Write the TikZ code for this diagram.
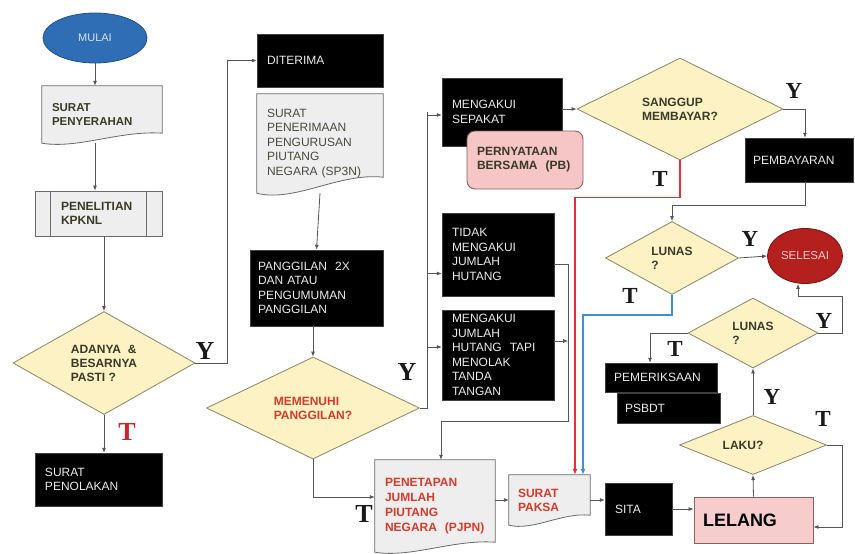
\documentclass[tikz,border=0pt]{standalone}
\usepackage{fontspec}
\setmainfont{Liberation Sans}
\newfontfamily\serf{Liberation Serif}
\usetikzlibrary{shapes.geometric,arrows.meta,calc,backgrounds}
\definecolor{dfill}{HTML}{FCF2C4}
\definecolor{ddraw}{HTML}{8A8466}
\definecolor{gfill}{HTML}{EEEEEE}
\definecolor{gdraw}{HTML}{6A6A6A}
\definecolor{lncol}{HTML}{555555}
\definecolor{dtxt}{HTML}{3A3A28}
\definecolor{sptxt}{HTML}{4A4A3E}
\definecolor{rtxt}{HTML}{D83A2C}
\definecolor{pfill}{HTML}{F6C6C6}
\definecolor{pdraw}{HTML}{8A6060}
\definecolor{bfill}{HTML}{2F6DB5}
\definecolor{bdraw}{HTML}{1F4F8F}
\definecolor{btxt}{HTML}{D5E5F5}
\definecolor{efill}{HTML}{B3201E}
\definecolor{edraw}{HTML}{7A1414}
\definecolor{etxt}{HTML}{F5D0D0}
\definecolor{redln}{HTML}{E0303A}
\definecolor{bluln}{HTML}{3D8FD6}
\definecolor{labcol}{HTML}{1A1A1A}
\definecolor{tred}{HTML}{C8282A}
\newcommand\docshape[2]{%
  \begin{pgfonlayer}{background}
  \path[docline] (#1.north west) -- (#1.north east) -- ($(#1.south east)+(0,-#2)$)
    .. controls ($(#1.south west)!0.65!(#1.south east)+(0,-1.3*#2)$) and ($(#1.south west)!0.3!(#1.south east)+(0,0.6*#2)$) .. (#1.south west) -- cycle;
  \end{pgfonlayer}}
\begin{document}
\begin{tikzpicture}[x=1pt,y=-1pt,
  every node/.style={font=\fontsize{12}{14.5}\selectfont},
  blk/.style={rectangle, fill=black, draw=black!75, text=white!92!black, align=left, inner xsep=10pt, inner ysep=0pt},
  gbox/.style={rectangle, fill=gfill, draw=gdraw, line width=0.8pt, align=left, inner xsep=10pt, inner ysep=0pt, text=dtxt, font=\bfseries\fontsize{12}{14}\selectfont},
  docnode/.style={rectangle, align=left, inner xsep=10pt, inner ysep=0pt},
  docline/.style={fill=gfill, draw=gdraw, line width=0.8pt},
  dia/.style={diamond, fill=dfill, draw=ddraw, line width=0.8pt, inner sep=0pt},
  dtext/.style={text=dtxt, font=\bfseries\fontsize{12}{14}\selectfont, align=left},
  rdtext/.style={text=rtxt, font=\bfseries\fontsize{12}{14}\selectfont, align=left},
  pinkbox/.style={rectangle, fill=pfill, draw=pdraw, line width=0.9pt, align=left, inner ysep=0pt},
  arr/.style={draw=lncol, line width=0.8pt, -{Latex[length=5pt,width=4pt]}},
  plain/.style={draw=lncol, line width=0.8pt},
  labbig/.style={font=\serf\bfseries\fontsize{26}{26}\selectfont, text=labcol, inner sep=0pt},
  lab/.style={font=\serf\bfseries\fontsize{23}{23}\selectfont, text=labcol, inner sep=0pt},
]
\useasboundingbox (0,0) rectangle (855,554);
\begin{pgfonlayer}{background}
\fill[white] (0,0) rectangle (855,554);
\end{pgfonlayer}

% ---------- left column ----------
\node[ellipse, fill=bfill, draw=bdraw, line width=0.8pt, minimum width=104pt, minimum height=50pt, inner sep=0pt, text=btxt, font=\fontsize{11}{13}\selectfont] (mulai) at (95,38) {MULAI};

\node[docnode, text=dtxt, font=\bfseries\fontsize{11.5}{14}\selectfont, text width=100pt, minimum height=57pt] (penyerahan) at (102,114.5) {SURAT\\PENYERAHAN};
\docshape{penyerahan}{10}

\node[gbox, inner xsep=26pt, text width=75pt, minimum height=45pt] (penelitian) at (98.5,213.5) {PENELITIAN\\KPKNL};
\draw[draw=gdraw, line width=0.8pt] ($(penelitian.north west)+(16,0)$) -- ($(penelitian.south west)+(16,0)$);
\draw[draw=gdraw, line width=0.8pt] ($(penelitian.north east)+(-16,0)$) -- ($(penelitian.south east)+(-16,0)$);

\node[dia, minimum width=182pt, minimum height=103pt, label={[dtext]center:{ADANYA \ \&\\BESARNYA\\PASTI ?}}] (adanya) at (104,363) {};

\node[blk, text width=107pt, minimum height=53pt] (penolakan) at (98.5,479.5) {SURAT\\PENOLAKAN};

% ---------- second column ----------
\node[blk, text width=106pt, minimum height=53pt] (diterima) at (320,60.5) {DITERIMA};

\node[docnode, text=sptxt, text width=106pt, minimum height=99pt] (sp3n) at (320,143.5) {SURAT\\PENERIMAAN\\PENGURUSAN\\PIUTANG\\NEGARA (SP3N)};
\docshape{sp3n}{16}

\node[blk, inner xsep=8pt, text width=117pt, minimum height=76pt] (panggilan) at (316.5,288) {PANGGILAN \ 2X\\DAN ATAU\\PENGUMUMAN\\PANGGILAN};

\node[dia, minimum width=213pt, minimum height=102pt, label={[rdtext]center:{MEMENUHI\\PANGGILAN?}}] (memenuhi) at (313,408) {};

% ---------- third column ----------
\node[blk, text width=100pt, minimum height=68pt] (sepakat) at (502,112) {MENGAKUI\\SEPAKAT};
\node[pinkbox, rounded corners=8pt, text=dtxt, font=\bfseries\fontsize{12}{14}\selectfont, inner xsep=10pt, text width=96pt, minimum height=58pt] (pb) at (525,160) {PERNYATAAN\\BERSAMA \ (PB)};

\node[blk, text width=92pt, minimum height=83pt] (tidak) at (498,254.5) {TIDAK\\MENGAKUI\\JUMLAH\\HUTANG};
\node[blk, text width=92pt, minimum height=90pt] (mj) at (498,355) {MENGAKUI\\JUMLAH\\HUTANG \ TAPI\\MENOLAK\\TANDA\\TANGAN};

\node[docnode, text=rtxt, font=\bfseries\fontsize{12}{15}\selectfont, text width=100pt, minimum height=92pt] (penetapan) at (435,506) {PENETAPAN\\JUMLAH\\PIUTANG\\NEGARA \ (PJPN)};
\docshape{penetapan}{10}

\node[docnode, text=rtxt, font=\bfseries\fontsize{12}{14}\selectfont, inner xsep=9pt, text width=63pt, minimum height=50pt] (suratpaksa) at (549.5,500) {SURAT\\PAKSA};
\docshape{suratpaksa}{10}

% ---------- right part ----------
\node[dia, minimum width=206pt, minimum height=102pt, label={[dtext]center:{SANGGUP\\MEMBAYAR?}}] (sanggup) at (680,109) {};
\node[blk, inner xsep=8pt, text width=92pt, minimum height=44pt] (pembayaran) at (799,160) {PEMBAYARAN};

\node[dia, minimum width=133pt, minimum height=73pt, label={[dtext]center:{LUNAS\\?}}] (lunas1) at (672,258) {};
\node[ellipse, fill=efill, draw=edraw, line width=0.8pt, minimum width=75pt, minimum height=55pt, inner sep=0pt, text=etxt, font=\fontsize{11.5}{13}\selectfont] (selesai) at (805,256) {SELESAI};

\node[dia, minimum width=130pt, minimum height=70pt, label={[dtext]center:{LUNAS\\?}}] (lunas2) at (753,333) {};
\node[blk, inner xsep=9pt, text width=94pt, minimum height=29pt] (pemeriksaan) at (661,377.5) {PEMERIKSAAN};
\node[blk, inner xsep=8pt, text width=87pt, minimum height=30pt] (psbdt) at (668.5,408) {PSBDT};

\node[dia, minimum width=147pt, minimum height=59pt, label={[dtext, xshift=-10pt]center:{LAKU?}}] (laku) at (753,445) {};

\node[blk, text width=47pt, minimum height=52pt] (sita) at (638.5,509) {SITA};
\node[pinkbox, fill=pfill!90!white, text=black, font=\bfseries\fontsize{18}{20}\selectfont, inner xsep=9pt, text width=101pt, minimum height=46pt] (lelang) at (753.5,520) {LELANG};

% ---------- connectors ----------
\draw[arr] (mulai.south) -- (mulai.south |- penyerahan.north);
\draw[arr] (mulai.south |- penyerahan.south) -- (mulai.south |- penelitian.north);
\draw[arr] (adanya.north |- penelitian.south) -- (adanya.north);
\draw[arr] (adanya.south) -- (adanya.south |- penolakan.north);
\draw[arr] (adanya.east) -- ++(32,0) |- (diterima.west);

\draw[arr] (sp3n.south) -- (panggilan.north);
\draw[arr] (memenuhi.north |- panggilan.south) -- (memenuhi.north);

\draw[plain] (memenuhi.east) -- ++(7,0) -- ++(0,-296);
\draw[arr] ($(memenuhi.east)+(7,0)$) |- ($(sepakat.west)+(0,3)$);
\draw[arr] ($(memenuhi.east)+(7,0)$) |- ($(tidak.west)+(0,19)$);
\draw[arr] ($(memenuhi.east)+(7,0)$) |- ($(mj.west)+(0,-8)$);

\draw[arr] (memenuhi.south) |- ($(penetapan.west)+(0,-9)$);

\draw[arr] ($(tidak.east)+(0,10)$) -- ++(14,0) -- ++(0,157) -| ($(penetapan.north)+(6,0)$);
\draw[arr] ($(mj.east)+(0,-14)$) -- ++(14,0);

\draw[arr] (penetapan.east |- suratpaksa.west) -- (suratpaksa.west);
\draw[arr] (suratpaksa.east) -- (suratpaksa.east -| sita.west);
\draw[arr] (sita.east) -- (sita.east -| lelang.west);

\draw[arr] (sanggup.west -| sepakat.east) -- (sanggup.west);
\draw[arr] (sanggup.east) -| ($(pembayaran.north)+(6,0)$);
\draw[arr] ($(pembayaran.south)+(6,0)$) -- ++(0,23) -| (lunas1.north);

\draw[draw=redln, line width=1.2pt, -{Latex[length=6pt,width=5pt]}] (sanggup.south) -- ++(0,37) -| ($(suratpaksa.north)+(25.5,0)$);
\draw[draw=bluln, line width=1.2pt, -{Latex[length=6pt,width=5pt]}] (lunas1.south) -- ++(0,20) -| ($(suratpaksa.north)+(33.5,0)$);

\draw[arr] (lunas1.east) -- (selesai.west);
\draw[arr] (lunas2.east) -- ++(24,0) -- ++(0,-37) -| ($(selesai.south)+(-7,0)$);
\draw[arr] (lunas2.west) -| ($(pemeriksaan.north)+(-11,0)$);
\draw[arr] (laku.north) -- (lunas2.south);
\draw[arr] (lelang.north) -- (laku.south);
\draw[arr] (laku.east) -- ++(15,0) |- ($(lelang.east)+(0,7)$);

% ---------- labels ----------
\node[labbig] (ly1) at (205,351) {Y};
\node[labbig, text=tred] (lt1) at (127,432) {T};
\node[labbig] (ly2) at (407,372) {Y};
\node[labbig] (lt2) at (364,514) {T};
\node[lab] (ly3) at (794,91) {Y};
\node[lab] (lt3) at (660,179) {T};
\node[lab] (ly4) at (750,239) {Y};
\node[lab] (lt4) at (630,296) {T};
\node[lab] (ly5) at (824,321) {Y};
\node[lab] (lt5) at (675,349) {T};
\node[lab] (ly6) at (772,397) {Y};
\node[lab] (lt6) at (823,419) {T};
\end{tikzpicture}
\end{document}
